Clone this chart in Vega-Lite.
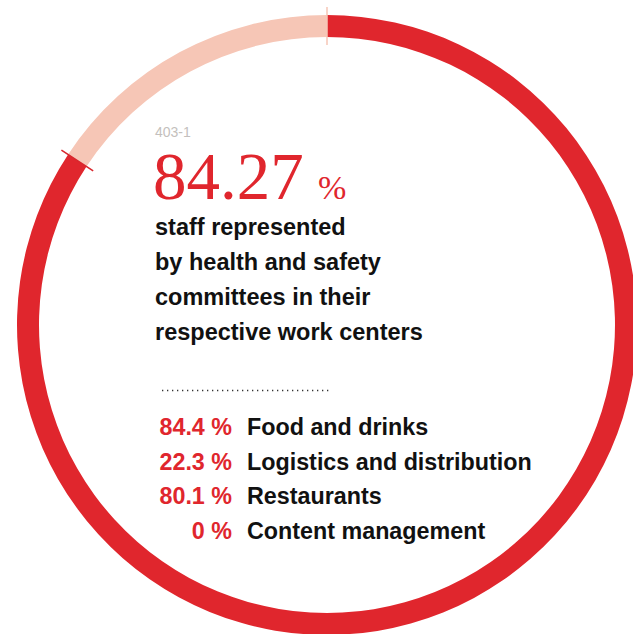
{
  "$schema": "https://vega.github.io/schema/vega-lite/v6.json",
  "width": 654,
  "height": 650,
  "autosize": "none",
  "padding": 0,
  "background": "white",
  "config": {"view": {"stroke": null}},
  "layer": [
    {
      "data": {"values": [
        {"segment": "represented", "value": 84.27, "rank": 1},
        {"segment": "not represented", "value": 15.73, "rank": 2}
      ]},
      "mark": {"type": "arc", "outerRadius": 310, "innerRadius": 288},
      "encoding": {
        "theta": {"field": "value", "type": "quantitative", "stack": true, "scale": {"domain": [0, 100]}},
        "order": {"field": "rank", "type": "quantitative"},
        "color": {"field": "segment", "type": "nominal", "scale": {"domain": ["represented", "not represented"], "range": ["#e0262d", "#f6c6b6"]}, "legend": null}
      }
    },
    {
      "data": {"values": [
        {"mark": "start", "pos": 0},
        {"mark": "end", "pos": 84.27}
      ]},
      "mark": {"type": "arc", "outerRadius": 318, "innerRadius": 280, "strokeWidth": 1.5, "fillOpacity": 0},
      "encoding": {
        "theta": {"field": "pos", "type": "quantitative", "scale": {"domain": [0, 100]}},
        "theta2": {"field": "pos"},
        "stroke": {"field": "mark", "type": "nominal", "scale": {"domain": ["start", "end"], "range": ["#f6c6b6", "#d8262c"]}, "legend": null}
      }
    },
    {
      "data": {"values": [{"code": "403-1"}]},
      "mark": {"type": "text", "x": 155, "y": 137, "align": "left", "baseline": "alphabetic", "font": "Liberation Sans", "fontSize": 14, "color": "#c4bfbd"},
      "encoding": {"text": {"field": "code"}}
    },
    {
      "data": {"values": [{"total": "84.27"}]},
      "mark": {"type": "text", "x": 153, "y": 199, "align": "left", "baseline": "alphabetic", "font": "Liberation Serif", "fontSize": 67, "color": "#e0262d"},
      "encoding": {"text": {"field": "total"}}
    },
    {
      "data": {"values": [{"unit": "%"}]},
      "mark": {"type": "text", "x": 318, "y": 199, "align": "left", "baseline": "alphabetic", "font": "Liberation Serif", "fontSize": 34, "color": "#e0262d"},
      "encoding": {"text": {"field": "unit"}}
    },
    {
      "data": {"values": [{"line": "staff represented", "n": 1}, {"line": "by health and safety", "n": 2}, {"line": "committees in their", "n": 3}, {"line": "respective work centers", "n": 4}]},
      "mark": {"type": "text", "x": 155, "align": "left", "baseline": "alphabetic", "font": "Liberation Sans", "fontWeight": "bold", "fontSize": 23.5, "color": "#111111"},
      "encoding": {
        "y": {"field": "n", "type": "quantitative", "axis": null, "scale": {"domain": [1, 4], "range": [235, 340], "zero": false, "nice": false}},
        "text": {"field": "line"}
      }
    },
    {
      "data": {"values": [{"sep": "divider"}]},
      "mark": {"type": "rule", "color": "#333333", "strokeWidth": 1.3, "strokeDash": [1.3, 3.7]},
      "encoding": {
        "x": {"value": 162},
        "x2": {"value": 331},
        "y": {"value": 390.5}
      }
    },
    {
      "data": {"values": [
        {"pct": "84.4 %", "label": "Food and drinks"},
        {"pct": "22.3 %", "label": "Logistics and distribution"},
        {"pct": "80.1 %", "label": "Restaurants"},
        {"pct": "0 %", "label": "Content management"}
      ]},
      "encoding": {
        "y": {"field": "label", "type": "nominal", "sort": null, "axis": null, "scale": {"type": "point", "range": [435, 539], "padding": 0}}
      },
      "layer": [
        {
          "mark": {"type": "text", "x": 232, "align": "right", "baseline": "alphabetic", "font": "Liberation Sans", "fontWeight": "bold", "fontSize": 23.3, "color": "#e0262d"},
          "encoding": {"text": {"field": "pct"}}
        },
        {
          "mark": {"type": "text", "x": 247, "align": "left", "baseline": "alphabetic", "font": "Liberation Sans", "fontWeight": "bold", "fontSize": 23.3, "color": "#111111"},
          "encoding": {"text": {"field": "label"}}
        }
      ]
    }
  ],
  "resolve": {"scale": {"y": "independent"}}
}
